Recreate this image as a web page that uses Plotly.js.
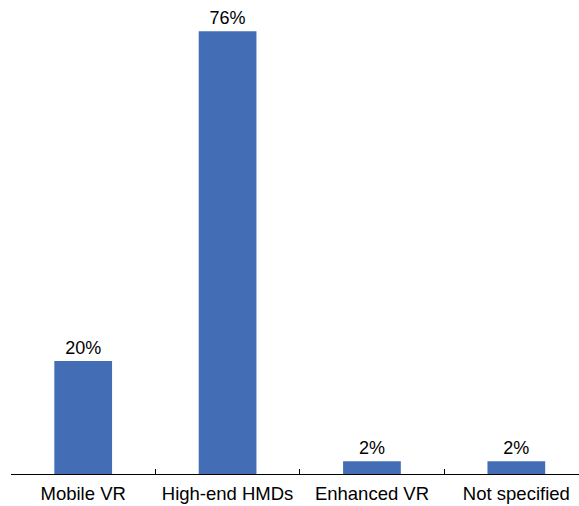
<!DOCTYPE html>
<html>
<head>
<meta charset="utf-8">
<script src="https://cdn.plot.ly/plotly-3.0.1.min.js"></script>
<style>html,body{margin:0;padding:0;background:#fff;}#chart{width:579px;height:506px;}</style>
</head>
<body>
<div id="chart"></div>
<script>
const categories = ["Mobile VR", "High-end HMDs", "Enhanced VR", "Not specified"];
const values = [19.4, 76, 2.2, 2.2];
const labels = ["20%", "76%", "2%", "2%"];

const trace = {
  type: "bar",
  x: categories,
  y: values,
  text: labels,
  textposition: "outside",
  cliponaxis: false,
  textfont: {family: "Liberation Sans, Arial, sans-serif", size: 18, color: "#000"},
  marker: {color: "#436EB6"},
  width: 0.4,
  hoverinfo: "none"
};

const layout = {
  width: 579, height: 506,
  margin: {l: 11, r: 0, t: 8, b: 32},
  paper_bgcolor: "#fff", plot_bgcolor: "#fff",
  showlegend: false,
  font: {family: "Liberation Sans, Arial, sans-serif", color: "#000"},
  xaxis: {
    type: "category",
    range: [-0.5, 3.434],
    tickson: "boundaries",
    ticks: "inside",
    ticklen: 5,
    tickcolor: "#000",
    tickwidth: 1,
    showline: true,
    linecolor: "#000",
    linewidth: 1,
    showgrid: false,
    zeroline: false,
    ticklabelstandoff: 3,
    tickfont: {size: 18.5, color: "#000"}
  },
  yaxis: {
    range: [0, 80],
    visible: false,
    showgrid: false,
    zeroline: false
  }
};

Plotly.newPlot("chart", [trace], layout, {displayModeBar: false, staticPlot: true});
</script>
</body>
</html>
